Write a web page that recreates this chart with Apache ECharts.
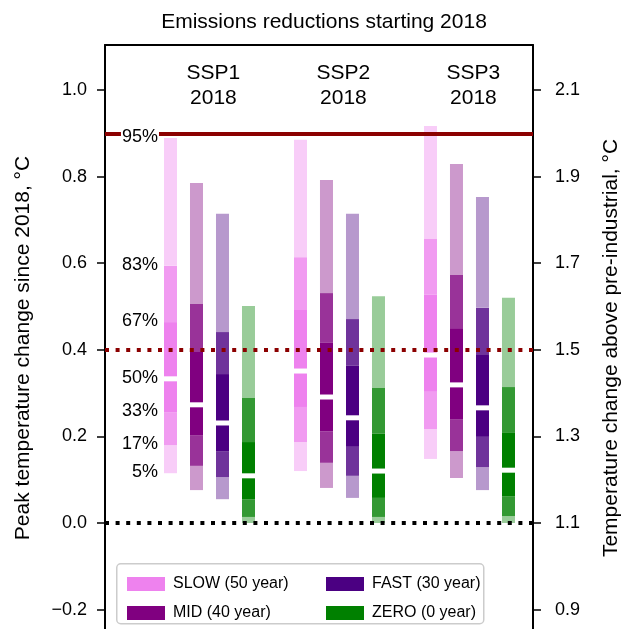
<!DOCTYPE html>
<html>
<head>
<meta charset="utf-8">
<script src="https://cdn.jsdelivr.net/npm/echarts@6/dist/echarts.min.js"></script>
<style>
html, body { margin: 0; padding: 0; background: #fff; }
#main { width: 624px; height: 629px; }
</style>
</head>
<body>
<div id="main"></div>
<script>
var groups = ['SSP1', 'SSP2', 'SSP3'];
var groupYear = '2018';
var scenarios = ['SLOW (50 year)', 'MID (40 year)', 'FAST (30 year)', 'ZERO (0 year)'];
var scenarioColors = ['#ee82ee', '#800080', '#4b0082', '#008000'];
var pctLabels = ['5%', '17%', '33%', '50%', '67%', '83%', '95%'];

// percentiles 5,17,33,50,67,83,95 of peak warming; one row per SSP
var slow = [
    [0.115, 0.180, 0.256, 0.333, 0.464, 0.594, 0.889],
    [0.120, 0.187, 0.268, 0.351, 0.492, 0.614, 0.885],
    [0.148, 0.217, 0.303, 0.388, 0.527, 0.656, 0.917]
];
var mid = [
    [0.076, 0.132, 0.203, 0.273, 0.395, 0.506, 0.785],
    [0.081, 0.139, 0.212, 0.291, 0.416, 0.531, 0.792],
    [0.104, 0.166, 0.240, 0.319, 0.450, 0.573, 0.829]
];
var fast = [
    [0.055, 0.106, 0.166, 0.231, 0.344, 0.441, 0.714],
    [0.058, 0.109, 0.176, 0.243, 0.363, 0.471, 0.714],
    [0.076, 0.129, 0.199, 0.266, 0.388, 0.497, 0.753]
];
var zero = [
    [0.000, 0.014, 0.055, 0.109, 0.187, 0.289, 0.501],
    [0.000, 0.014, 0.058, 0.120, 0.206, 0.312, 0.524],
    [0.000, 0.016, 0.062, 0.122, 0.208, 0.314, 0.520]
];
var leftTicks = [-0.2, 0.0, 0.2, 0.4, 0.6, 0.8, 1.0];
var rightTicks = [0.9, 1.1, 1.3, 1.5, 1.7, 1.9, 2.1];
var preIndustrialOffset = 1.1;
var limit20 = 0.9;   // 2.0 C above pre-industrial
var limit15 = 0.4;   // 1.5 C above pre-industrial

var FONT = '"Liberation Sans", Arial, Helvetica, sans-serif';
var bandAlpha = [0.4, 0.8, 1, 1, 0.8, 0.4];
// the axes run past the bottom edge of the picture
var yMin = -0.2956, yMax = 1.104;

function blend(hex, a) {
    var r = parseInt(hex.substr(1, 2), 16), g = parseInt(hex.substr(3, 2), 16), b = parseInt(hex.substr(5, 2), 16);
    var f = function (c) { return Math.round(255 - a * (255 - c)); };
    return 'rgb(' + f(r) + ',' + f(g) + ',' + f(b) + ')';
}

// x slot of a bar: groups of 4 bars with one empty slot between groups
function slot(g, s) { return g * 5 + s + 1; }

var allData = [slow, mid, fast, zero];

function barSeries(s) {
    var color = scenarioColors[s];
    var data = allData[s].map(function (row, g) {
        return [slot(g, s)].concat(row);
    });
    return {
        name: scenarios[s],
        type: 'custom',
        z: 3,
        itemStyle: { color: color },
        data: data,
        encode: { x: 0, y: [1, 7] },
        renderItem: function (params, api) {
            var x = api.value(0);
            var w = api.size([1, 0])[0] * 0.5;
            var children = [];
            for (var k = 0; k < 6; k++) {
                var p0 = api.coord([x, api.value(k + 1)]);
                var p1 = api.coord([x, api.value(k + 2)]);
                children.push({
                    type: 'rect',
                    shape: { x: p0[0] - w / 2, y: p1[1], width: w, height: p0[1] - p1[1] },
                    style: { fill: blend(color, bandAlpha[k]) }
                });
            }
            var pm = api.coord([x, api.value(4)]);
            children.push({
                type: 'rect',
                shape: { x: pm[0] - w / 2 - 1, y: pm[1] - 2.5, width: w + 2, height: 5 },
                style: { fill: '#fff' }
            });
            return { type: 'group', children: children };
        }
    };
}

var series = [0, 1, 2, 3].map(barSeries);

// horizontal reference lines
series.push({
    type: 'line',
    data: [],
    z: 1,
    markLine: {
        silent: true,
        symbol: 'none',
        label: { show: false },
        data: [
            { yAxis: limit20, lineStyle: { color: '#8b0000', width: 4, type: 'solid' } },
            { yAxis: limit15, lineStyle: { color: '#8b0000', width: 4, type: [4, 6.6], cap: 'butt' } },
            { yAxis: 0, lineStyle: { color: '#000', width: 4, type: [4, 6.6], cap: 'butt' } }
        ]
    }
});

// percentile labels next to the first bar
series.push({
    type: 'custom',
    z: 5,
    silent: true,
    data: slow[0].map(function (v, i) { return [slot(0, 0), v, i]; }),
    renderItem: function (params, api) {
        var w = api.size([1, 0])[0] * 0.5;
        var p = api.coord([api.value(0), api.value(1)]);
        return {
            type: 'text',
            style: {
                x: p[0] - w / 2 - 5, y: p[1] - 1,
                text: pctLabels[api.value(2)],
                align: 'right', verticalAlign: 'middle',
                fontFamily: FONT, fontSize: 18, fill: '#000',
                backgroundColor: '#fff', padding: [0, 1]
            }
        };
    }
});

// group headings
series.push({
    type: 'custom',
    z: 5,
    silent: true,
    data: groups.map(function (g, i) { return [slot(i, 0) + 1.65, 1.01, i]; }),
    renderItem: function (params, api) {
        var p = api.coord([api.value(0), api.value(1)]);
        return {
            type: 'text',
            style: {
                x: p[0], y: p[1],
                text: groups[api.value(2)] + '\n' + groupYear,
                align: 'center', verticalAlign: 'middle',
                fontFamily: FONT, fontSize: 21, fill: '#000', lineHeight: 25
            }
        };
    }
});

var myChart = echarts.init(document.getElementById('main'));
option = {
    animation: false,
    backgroundColor: '#fff',
    title: {
        text: 'Emissions reductions starting 2018',
        left: 319,
        textAlign: 'center',
        top: 7,
        textStyle: { fontFamily: FONT, fontSize: 21, fontWeight: 'normal', color: '#000' }
    },
    grid: { left: 105, right: 91, top: 45, bottom: -22, outerBoundsMode: 'none', containLabel: false },
    legend: [{
        data: [scenarios[0], scenarios[1]],
        orient: 'vertical',
        left: 122, top: 571, z: 20,
        itemWidth: 38, itemHeight: 14, itemGap: 13,
        icon: 'rect',
        textStyle: { fontFamily: FONT, fontSize: 16, color: '#000', padding: [0, 0, 0, 3] }
    }, {
        data: [scenarios[2], scenarios[3]],
        orient: 'vertical',
        left: 321, top: 571, z: 20,
        itemWidth: 38, itemHeight: 14, itemGap: 13,
        icon: 'rect',
        textStyle: { fontFamily: FONT, fontSize: 16, color: '#000', padding: [0, 0, 0, 3] }
    }],
    graphic: [{
        type: 'rect',
        left: 116, top: 563, z: 10,
        shape: { width: 367, height: 60, r: 4 },
        style: { fill: 'rgba(255,255,255,0.8)', stroke: '#cccccc', lineWidth: 1.5 },
        silent: true
    }],
    xAxis: {
        type: 'value',
        position: 'top',
        min: -1.519, max: 14.943,
        axisLine: { show: true, onZero: false, lineStyle: { color: '#000', width: 2 } },
        axisTick: { show: false },
        axisLabel: { show: false },
        splitLine: { show: false }
    },
    yAxis: [{
        type: 'value',
        min: yMin, max: yMax,
        position: 'left',
        name: 'Peak temperature change since 2018, °C',
        nameLocation: 'middle',
        nameRotate: 90,
        nameGap: 71,
        nameTextStyle: { fontFamily: FONT, fontSize: 21, color: '#000' },
        axisLine: { show: true, onZero: false, lineStyle: { color: '#000', width: 2 } },
        axisTick: { show: true, length: 8, customValues: leftTicks, lineStyle: { color: '#000', width: 1.5 } },
        axisLabel: {
            customValues: leftTicks, margin: 18, fontFamily: FONT, fontSize: 18, color: '#000',
            formatter: function (v) { return (v < 0 ? '\u2212' : '') + Math.abs(v).toFixed(1); }
        },
        splitLine: { show: false }
    }, {
        type: 'value',
        min: yMin + preIndustrialOffset, max: yMax + preIndustrialOffset,
        position: 'right',
        name: 'Temperature change above pre-industrial, °C',
        nameLocation: 'middle',
        nameRotate: 90,
        nameGap: 68,
        nameTextStyle: { fontFamily: FONT, fontSize: 21, color: '#000' },
        axisLine: { show: true, onZero: false, lineStyle: { color: '#000', width: 2 } },
        axisTick: { show: true, length: 8, customValues: rightTicks, lineStyle: { color: '#000', width: 1.5 } },
        axisLabel: {
            customValues: rightTicks, margin: 22, fontFamily: FONT, fontSize: 18, color: '#000',
            formatter: function (v) { return v.toFixed(1); }
        },
        splitLine: { show: false }
    }],
    series: series
};
myChart.setOption(option);
</script>
</body>
</html>
